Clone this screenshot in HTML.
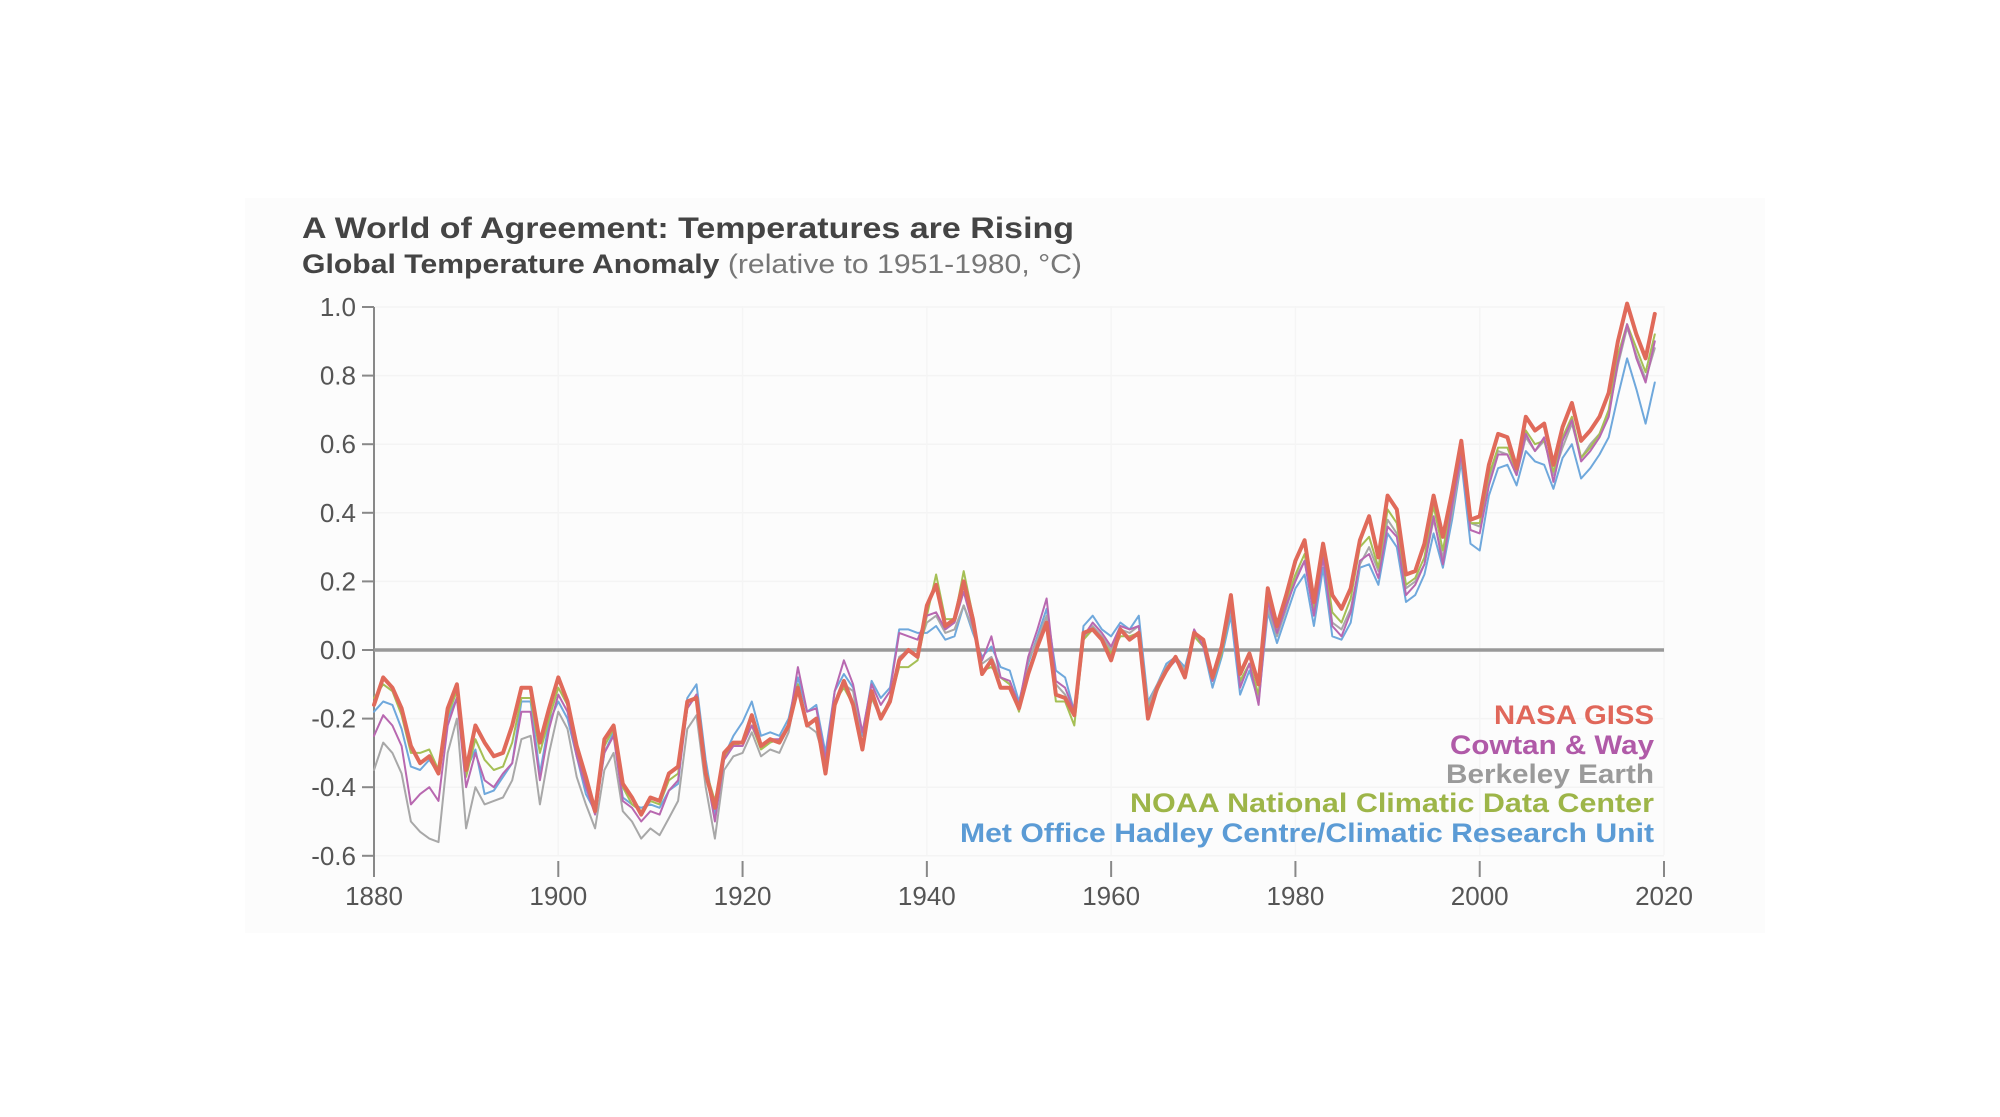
<!DOCTYPE html>
<html><head><meta charset="utf-8"><style>
html,body{margin:0;padding:0;background:#fff;width:2000px;height:1117px;overflow:hidden}
svg{display:block;font-family:"Liberation Sans",sans-serif}
</style></head><body>
<svg id="chart" width="2000" height="1117" viewBox="0 0 2000 1117">
<rect x="245" y="198" width="1520" height="735" fill="#fcfcfc"/>
<text x="302" y="238" font-size="30" font-weight="bold" fill="#444" textLength="772" lengthAdjust="spacingAndGlyphs">A World of Agreement: Temperatures are Rising</text>
<text x="302" y="273" font-size="27" fill="#444" textLength="780" lengthAdjust="spacingAndGlyphs"><tspan font-weight="bold">Global Temperature Anomaly</tspan><tspan fill="#777"> (relative to 1951-1980, °C)</tspan></text>
<g id="grid"></g><g id="axes"></g><g id="series"></g>
<g font-weight="bold" font-size="27" text-anchor="end">
<text x="1654" y="724" fill="#e0675a" textLength="160" lengthAdjust="spacingAndGlyphs">NASA GISS</text>
<text x="1654" y="754" fill="#b05aa8" textLength="204" lengthAdjust="spacingAndGlyphs">Cowtan &amp; Way</text>
<text x="1654" y="783" fill="#9a9a9a" textLength="208" lengthAdjust="spacingAndGlyphs">Berkeley Earth</text>
<text x="1654" y="812" fill="#9db548" textLength="524" lengthAdjust="spacingAndGlyphs">NOAA National Climatic Data Center</text>
<text x="1654" y="842" fill="#5b9bd5" textLength="694" lengthAdjust="spacingAndGlyphs">Met Office Hadley Centre/Climatic Research Unit</text>
</g>
</svg>
<script>
const yearStart = 1880;
const xTicks = [1880,1900,1920,1940,1960,1980,2000,2020];
const yTicks = [-0.6,-0.4,-0.2,0.0,0.2,0.4,0.6,0.8,1.0];
const yTickLabels = ["-0.6","-0.4","-0.2","0.0","0.2","0.4","0.6","0.8","1.0"];
const nasa = [-0.16,-0.08,-0.11,-0.17,-0.28,-0.33,-0.31,-0.36,-0.17,-0.10,
-0.35,-0.22,-0.27,-0.31,-0.30,-0.22,-0.11,-0.11,-0.27,-0.17,
-0.08,-0.15,-0.28,-0.37,-0.47,-0.26,-0.22,-0.39,-0.43,-0.48,
-0.43,-0.44,-0.36,-0.34,-0.15,-0.14,-0.36,-0.46,-0.30,-0.27,
-0.27,-0.19,-0.28,-0.26,-0.27,-0.22,-0.11,-0.22,-0.20,-0.36,
-0.16,-0.09,-0.16,-0.29,-0.12,-0.20,-0.15,-0.03,0.00,-0.02,
0.13,0.19,0.07,0.09,0.20,0.09,-0.07,-0.03,-0.11,-0.11,
-0.17,-0.07,0.01,0.08,-0.13,-0.14,-0.19,0.05,0.06,0.03,
-0.03,0.06,0.03,0.05,-0.20,-0.11,-0.06,-0.02,-0.08,0.05,
0.03,-0.08,0.01,0.16,-0.07,-0.01,-0.10,0.18,0.07,0.16,
0.26,0.32,0.14,0.31,0.16,0.12,0.18,0.32,0.39,0.27,
0.45,0.41,0.22,0.23,0.31,0.45,0.33,0.46,0.61,0.38,
0.39,0.54,0.63,0.62,0.53,0.68,0.64,0.66,0.54,0.65,
0.72,0.61,0.64,0.68,0.75,0.90,1.01,0.92,0.85,0.98];
const cowtan = [-0.25,-0.19,-0.22,-0.28,-0.45,-0.42,-0.40,-0.44,-0.22,-0.14,
-0.40,-0.30,-0.38,-0.40,-0.36,-0.33,-0.18,-0.18,-0.38,-0.23,
-0.13,-0.18,-0.31,-0.40,-0.48,-0.30,-0.25,-0.44,-0.46,-0.50,
-0.47,-0.48,-0.41,-0.38,-0.17,-0.13,-0.35,-0.50,-0.32,-0.28,
-0.28,-0.22,-0.28,-0.26,-0.26,-0.22,-0.05,-0.18,-0.17,-0.32,
-0.12,-0.03,-0.10,-0.24,-0.10,-0.16,-0.12,0.05,0.04,0.03,
0.10,0.11,0.06,0.08,0.17,0.07,-0.03,0.04,-0.08,-0.09,
-0.16,-0.02,0.06,0.15,-0.09,-0.11,-0.18,0.04,0.08,0.05,
0.01,0.07,0.06,0.07,-0.18,-0.11,-0.06,-0.03,-0.07,0.06,
0.01,-0.09,0.00,0.13,-0.11,-0.04,-0.16,0.14,0.05,0.13,
0.20,0.26,0.10,0.27,0.07,0.04,0.11,0.26,0.28,0.21,
0.36,0.33,0.16,0.19,0.25,0.39,0.25,0.42,0.57,0.35,
0.34,0.48,0.57,0.57,0.51,0.63,0.58,0.62,0.49,0.61,
0.67,0.55,0.58,0.62,0.68,0.84,0.95,0.85,0.78,0.90];
const berkeley = [-0.35,-0.27,-0.30,-0.36,-0.50,-0.53,-0.55,-0.56,-0.30,-0.20,
-0.52,-0.40,-0.45,-0.44,-0.43,-0.38,-0.26,-0.25,-0.45,-0.30,
-0.18,-0.23,-0.37,-0.45,-0.52,-0.35,-0.30,-0.47,-0.50,-0.55,
-0.52,-0.54,-0.49,-0.44,-0.23,-0.19,-0.40,-0.55,-0.35,-0.31,
-0.30,-0.24,-0.31,-0.29,-0.30,-0.24,-0.10,-0.22,-0.24,-0.33,
-0.16,-0.10,-0.12,-0.28,-0.14,-0.20,-0.14,-0.02,0.00,0.00,
0.08,0.10,0.05,0.06,0.13,0.06,-0.04,-0.02,-0.08,-0.10,
-0.16,-0.03,0.03,0.10,-0.10,-0.13,-0.18,0.03,0.07,0.04,
0.00,0.06,0.05,0.07,-0.16,-0.10,-0.05,-0.02,-0.06,0.05,
0.01,-0.08,0.00,0.12,-0.10,-0.04,-0.14,0.12,0.04,0.12,
0.21,0.26,0.11,0.27,0.08,0.06,0.12,0.25,0.30,0.23,
0.38,0.34,0.18,0.20,0.25,0.38,0.27,0.40,0.56,0.37,
0.36,0.50,0.58,0.57,0.51,0.62,0.58,0.61,0.51,0.59,
0.66,0.56,0.60,0.63,0.69,0.83,0.94,0.86,0.79,0.88];
const noaa = [-0.14,-0.10,-0.12,-0.19,-0.30,-0.30,-0.29,-0.35,-0.19,-0.12,
-0.37,-0.26,-0.32,-0.35,-0.34,-0.27,-0.14,-0.14,-0.30,-0.20,
-0.11,-0.16,-0.29,-0.39,-0.46,-0.28,-0.23,-0.40,-0.45,-0.47,
-0.44,-0.45,-0.38,-0.36,-0.17,-0.13,-0.35,-0.44,-0.31,-0.28,
-0.27,-0.22,-0.29,-0.27,-0.26,-0.22,-0.10,-0.22,-0.20,-0.34,
-0.15,-0.11,-0.16,-0.29,-0.14,-0.19,-0.15,-0.05,-0.05,-0.03,
0.10,0.22,0.09,0.09,0.23,0.10,-0.06,-0.05,-0.08,-0.10,
-0.18,-0.06,0.01,0.07,-0.15,-0.15,-0.22,0.03,0.06,0.03,
-0.01,0.04,0.04,0.05,-0.17,-0.12,-0.06,-0.03,-0.07,0.04,
0.01,-0.09,-0.01,0.13,-0.09,-0.04,-0.13,0.15,0.06,0.14,
0.22,0.28,0.12,0.29,0.11,0.08,0.15,0.30,0.33,0.24,
0.41,0.37,0.19,0.21,0.27,0.42,0.29,0.44,0.58,0.37,
0.37,0.51,0.59,0.59,0.52,0.64,0.60,0.61,0.52,0.62,
0.68,0.56,0.59,0.63,0.70,0.86,0.95,0.88,0.81,0.92];
const hadley = [-0.18,-0.15,-0.16,-0.23,-0.34,-0.35,-0.32,-0.36,-0.20,-0.14,
-0.35,-0.29,-0.42,-0.41,-0.37,-0.33,-0.15,-0.15,-0.36,-0.21,
-0.15,-0.20,-0.31,-0.42,-0.47,-0.30,-0.24,-0.43,-0.45,-0.46,
-0.45,-0.46,-0.41,-0.39,-0.14,-0.10,-0.32,-0.48,-0.31,-0.25,
-0.21,-0.15,-0.25,-0.24,-0.25,-0.20,-0.08,-0.18,-0.16,-0.30,
-0.12,-0.07,-0.11,-0.25,-0.09,-0.14,-0.11,0.06,0.06,0.05,
0.05,0.07,0.03,0.04,0.13,0.05,-0.02,0.01,-0.05,-0.06,
-0.15,-0.04,0.04,0.12,-0.06,-0.08,-0.18,0.07,0.10,0.06,
0.04,0.08,0.06,0.10,-0.15,-0.10,-0.04,-0.02,-0.05,0.05,
0.01,-0.11,-0.02,0.10,-0.13,-0.06,-0.15,0.11,0.02,0.10,
0.18,0.22,0.07,0.24,0.04,0.03,0.08,0.24,0.25,0.19,
0.34,0.30,0.14,0.16,0.22,0.34,0.24,0.38,0.55,0.31,
0.29,0.45,0.53,0.54,0.48,0.58,0.55,0.54,0.47,0.56,
0.60,0.50,0.53,0.57,0.62,0.74,0.85,0.76,0.66,0.78];

const NS = "http://www.w3.org/2000/svg";
const X0 = 374, X1 = 1664, Y0 = 650, YS = 343;
function xScale(yr){ return X0 + (yr - 1880) * (X1 - X0) / 140; }
function yScale(v){ return Y0 - v * YS; }
function mk(tag, attrs, parent){ const e = document.createElementNS(NS, tag); for (const k in attrs) e.setAttribute(k, attrs[k]); parent.appendChild(e); return e; }

const grid = document.getElementById('grid');
const axes = document.getElementById('axes');
const series = document.getElementById('series');

yTicks.forEach((v, i) => {
  const gl = mk('line', {x1: X0, x2: X1, y1: yScale(v), y2: yScale(v), stroke: '#f4f4f4', 'stroke-width': 1.5}, grid);
  
  
  const t = mk('line', {x1: X0 - 12, x2: X0, y1: yScale(v), y2: yScale(v), stroke: '#888', 'stroke-width': 2}, axes);
  
  
  const lb = mk('text', {x: X0 - 18, y: yScale(v) + 9, 'font-size': 26, fill: '#555', 'text-anchor': 'end'}, axes);
  lb.textContent = yTickLabels[i];
  
  
});
xTicks.forEach(yr => {
  const gl = mk('line', {x1: xScale(yr), x2: xScale(yr), y1: 306, y2: 855, stroke: '#f5f5f5', 'stroke-width': 1.5}, grid);
  
  
  const t = mk('line', {x1: xScale(yr), x2: xScale(yr), y1: 861, y2: 877, stroke: '#888', 'stroke-width': 2}, axes);
  
  
  const lb = mk('text', {x: xScale(yr), y: 905, 'font-size': 26, fill: '#555', 'text-anchor': 'middle'}, axes);
  lb.textContent = yr;
  
  
});
const ya = mk('line', {x1: X0, x2: X0, y1: yScale(1.0), y2: 877, stroke: '#888', 'stroke-width': 2}, axes);


const zl = mk('line', {x1: X0, x2: X1, y1: yScale(0), y2: yScale(0), stroke: '#999', 'stroke-width': 3.5}, axes);



function drawSeries(arr, color, w, name){
  const pts = arr.map((v, i) => xScale(yearStart + i).toFixed(1) + ',' + yScale(v).toFixed(1)).join(' ');
  const p = mk('polyline', {points: pts, fill: 'none', stroke: color, 'stroke-width': w, 'stroke-linejoin': 'round', 'stroke-linecap': 'round'}, series);
  
  
}
drawSeries(hadley, '#6fa8dc', 2, 'met-office-line');
drawSeries(berkeley, '#a8a8a8', 2, 'berkeley-earth-line');
drawSeries(noaa, '#a5bf55', 2, 'noaa-line');
drawSeries(cowtan, '#b868b0', 2, 'cowtan-way-line');
drawSeries(nasa, '#e06a5a', 4, 'nasa-giss-line');
</script>
</body></html>
